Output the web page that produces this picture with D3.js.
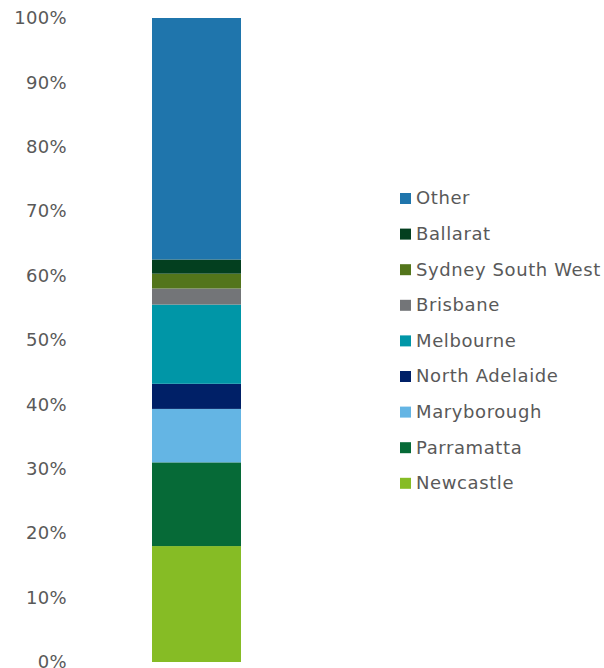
<!DOCTYPE html>
<html>
<head>
<meta charset="utf-8">
<script src="https://cdn.jsdelivr.net/npm/d3@7"></script>
<style>
  body { margin: 0; background: #fff; }
  text { font-family: "DejaVu Sans", Verdana, sans-serif; }
</style>
</head>
<body>
<div id="chart"></div>
<script>
// series, bottom to top
const sites = ["Newcastle", "Parramatta", "Maryborough", "North Adelaide", "Melbourne",
               "Brisbane", "Sydney South West", "Ballarat", "Other"];
const shares = [18.0, 13.0, 8.3, 3.9, 12.3, 2.5, 2.3, 2.2, 37.5];
const colors = ["#86bc25", "#066a37", "#64b5e4", "#002067", "#0096a7",
                "#737578", "#53751b", "#033f1f", "#1f75ac"];
const ticks = [0, 10, 20, 30, 40, 50, 60, 70, 80, 90, 100];

const W = 604, H = 668;
let margin = {top: 18, bottom: 6, left: 68};

const svg = d3.select("#chart").append("svg")
    .attr("width", W)
    .attr("height", H);

let y = d3.scaleLinear()
    .domain([0, 100])
    .range([H - margin.bottom, margin.top]);

// single category band
let x = d3.scaleBand()
    .domain(["all"])
    .range([152, 241])
    .padding(0);

let color = d3.scaleOrdinal()
    .domain(sites)
    .range(colors);

// cumulative stack
let row = {cat: "all"};
sites.forEach((s, i) => row[s] = shares[i]);
const stacked = d3.stack().keys(sites)([row]);

svg.append("g")
  .selectAll("rect")
  .data(stacked)
  .join("rect")
    .attr("x", x("all"))
    .attr("width", x.bandwidth())
    .attr("y", d => y(d[0][1]))
    .attr("height", d => y(d[0][0]) - y(d[0][1]))
    .attr("fill", d => color(d.key));

let yAxis = g => g
    .attr("transform", `translate(${margin.left},0)`)
    .call(d3.axisLeft(y).tickValues(ticks).tickFormat(d => d + "%").tickSize(0))
    .call(g => g.select(".domain").remove())
    .call(g => g.selectAll("text")
        .attr("x", -1)
        .attr("fill", "#595959")
        .attr("font-size", 18)
        .attr("letter-spacing", 0.3)
        .attr("font-family", "DejaVu Sans, Verdana, sans-serif"));

svg.append("g").call(yAxis);

// legend, top item is the last series
const legend = svg.append("g")
  .selectAll("g")
  .data(sites.slice().reverse())
  .join("g")
    .attr("transform", (d, i) => `translate(400,${198 + i * 35.6})`);

legend.append("rect")
    .attr("x", 0)
    .attr("y", -5)
    .attr("width", 11)
    .attr("height", 11)
    .attr("fill", d => color(d));

legend.append("text")
    .attr("x", 16)
    .attr("dy", "0.35em")
    .attr("fill", "#595959")
    .attr("font-size", 18)
    .attr("letter-spacing", 0.6)
    .text(d => d);
</script>
</body>
</html>
